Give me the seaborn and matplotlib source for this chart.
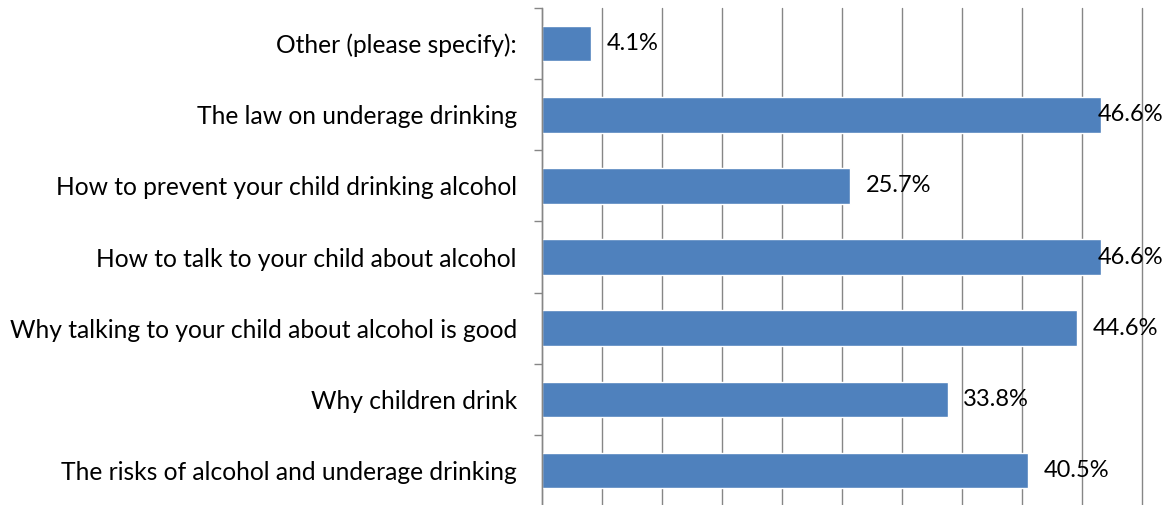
import matplotlib
matplotlib.use("Agg")
import matplotlib.pyplot as plt
import seaborn as sns
import pandas as pd
import numpy as np

categories = [
    "Other (please specify):",
    "The law on underage drinking",
    "How to prevent your child drinking alcohol",
    "How to talk to your child about alcohol",
    "Why talking to your child about alcohol is good",
    "Why children drink",
    "The risks of alcohol and underage drinking",
]
values = [4.1, 46.6, 25.7, 46.6, 44.6, 33.8, 40.5]

sns.set_theme(style="white")
plt.rcParams['font.family'] = ['Lato', 'DejaVu Sans']

df = pd.DataFrame({"cat": categories, "val": values})

fig = plt.figure(figsize=(11.7, 5.05), dpi=100)
ax = fig.add_axes([542/1170, -0.002, 600/1170, 1 - 8/505 + 0.002])

sns.barplot(data=df, y="cat", x="val", orient="h", color="#4F81BD",
            saturation=1, width=0.5, ax=ax, order=categories)

ax.set_xlim(0, 50)
ax.set_ylim(len(categories) - 0.5, -0.5)
ax.set_xticks(np.arange(0, 51, 5))
ax.set_xticklabels([])
ax.tick_params(axis="x", length=0)
ax.grid(axis="x", color="#868686", linewidth=1.0)
for gl in ax.get_xgridlines():
    gl.set_clip_on(False)
ax.set_axisbelow(True)
for s in ["top", "right", "bottom"]:
    ax.spines[s].set_visible(False)
ax.spines["left"].set_color("#868686")
ax.spines["left"].set_linewidth(1.0)
ax.set_xlabel("")
ax.set_ylabel("")

ax.set_yticks(range(len(categories)))
ax.set_yticklabels(categories, fontsize=17.7, color="black")
ax.tick_params(axis="y", which="major", length=0, pad=18)
ax.set_yticks(np.arange(-0.5, len(categories), 1.0), minor=True)
ax.tick_params(axis="y", which="minor", length=6, color="#868686", width=1.0, left=True)

for i, v in enumerate(values):
    lab = f"{v:.1f}%"
    if v + 1.3 + 5.4 < 51.8:
        ax.text(v + 1.3, i, lab, va="center", ha="left", fontsize=17, color="black", clip_on=False)
    else:
        ax.text(51.8, i, lab, va="center", ha="right", fontsize=17, color="black", clip_on=False)

fig.savefig("out.png", dpi=100)
